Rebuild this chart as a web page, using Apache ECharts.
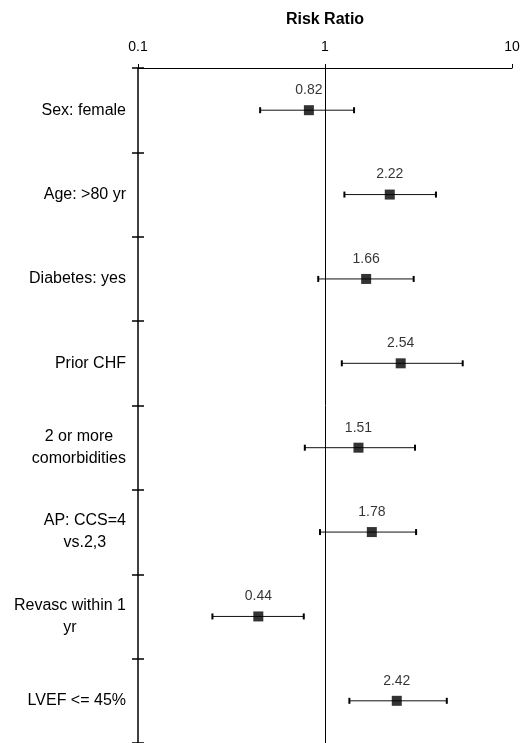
<!DOCTYPE html>
<html>
<head>
<meta charset="utf-8">
<script src="https://cdn.jsdelivr.net/npm/echarts@6/dist/echarts.min.js"></script>
<style>
html,body{margin:0;padding:0;background:#fff;}
#chart{width:529px;height:743px;}
</style>
</head>
<body>
<div id="chart"></div>
<script>
var categories = ['Sex: female','Age: >80 yr','Diabetes: yes','Prior CHF','2 or more\ncomorbidities','AP: CCS=4\nvs.2,3','Revasc within 1\nyr','LVEF <= 45%'];
var riskRatio = [0.82, 2.22, 1.66, 2.54, 1.51, 1.78, 0.44, 2.42];
var lowerCI = [0.45, 1.27, 0.92, 1.23, 0.78, 0.94, 0.25, 1.35];
var upperCI = [1.43, 3.92, 2.98, 5.45, 3.03, 3.07, 0.77, 4.48];
var xTicks = [0.1, 1, 10];

var FONT = '"Liberation Sans", Arial, sans-serif';
var chart = echarts.init(document.getElementById('chart'), null, {renderer: 'canvas'});

var ciData = categories.map(function (c, i) { return [lowerCI[i], upperCI[i], i]; });
var pointData = categories.map(function (c, i) { return [riskRatio[i], i]; });

var option = {
  backgroundColor: '#fff',
  animation: false,
  grid: {left: 138, top: 68, right: 17, bottom: -7},
  xAxis: {
    type: 'log', logBase: 10, min: xTicks[0], max: xTicks[xTicks.length - 1],
    position: 'top',
    name: 'Risk Ratio', nameLocation: 'middle', nameGap: 40,
    nameTextStyle: {fontFamily: FONT, fontSize: 16, fontWeight: 'bold', color: '#000'},
    axisLine: {show: true, lineStyle: {color: '#000', width: 1}},
    axisTick: {show: true, length: 4, lineStyle: {color: '#000'}},
    minorTick: {show: false},
    splitLine: {show: false},
    axisLabel: {
      fontFamily: FONT, fontSize: 14, color: '#000', margin: 14,
      formatter: function (v) { return String(+v.toPrecision(3)); }
    }
  },
  yAxis: [{
    type: 'category', data: categories, inverse: true, position: 'left',
    axisLine: {show: true, onZero: false, lineStyle: {color: '#000', width: 1.5}},
    axisTick: {show: true, length: 6, lineStyle: {color: '#000', width: 1.5}},
    splitLine: {show: false},
    axisLabel: {
      margin: 12, color: '#000', fontFamily: FONT, fontSize: 16,
      formatter: function (v) {
        return v.split('\n').map(function (l) { return '{c|' + l + '}'; }).join('\n');
      },
      rich: {c: {align: 'center', fontFamily: FONT, fontSize: 16, color: '#000', lineHeight: 22}}
    }
  }, {
    type: 'category', data: categories, inverse: true, position: 'left',
    axisLine: {show: false},
    axisTick: {show: true, inside: true, length: 6, lineStyle: {color: '#000', width: 1.5}},
    axisLabel: {show: false},
    splitLine: {show: false}
  }],
  series: [{
    type: 'custom',
    data: ciData,
    encode: {x: [0, 1], y: 2},
    renderItem: function (params, api) {
      var y = api.value(2);
      var p1 = api.coord([api.value(0), y]);
      var p2 = api.coord([api.value(1), y]);
      var h = 3;
      var st = {stroke: '#111', lineWidth: 1};
      var cs = {stroke: '#000', lineWidth: 2};
      return {
        type: 'group',
        children: [
          {type: 'line', shape: {x1: p1[0], y1: p1[1], x2: p2[0], y2: p2[1]}, style: st},
          {type: 'line', shape: {x1: p1[0], y1: p1[1] - h, x2: p1[0], y2: p1[1] + h}, style: cs},
          {type: 'line', shape: {x1: p2[0], y1: p2[1] - h, x2: p2[0], y2: p2[1] + h}, style: cs}
        ]
      };
    },
    z: 2
  }, {
    type: 'scatter',
    data: pointData,
    symbol: 'rect',
    symbolSize: 10,
    itemStyle: {color: '#000'},
    label: {
      show: true, position: 'top', distance: 8,
      fontFamily: FONT, fontSize: 14, color: '#000',
      formatter: function (p) { return p.value[0].toFixed(2); }
    },
    markLine: {
      silent: true, symbol: 'none', animation: false,
      lineStyle: {color: '#000', width: 1, type: 'solid'},
      label: {show: false},
      data: [{xAxis: 1}]
    },
    z: 3
  }]
};
chart.setOption(option);
</script>
</body>
</html>
